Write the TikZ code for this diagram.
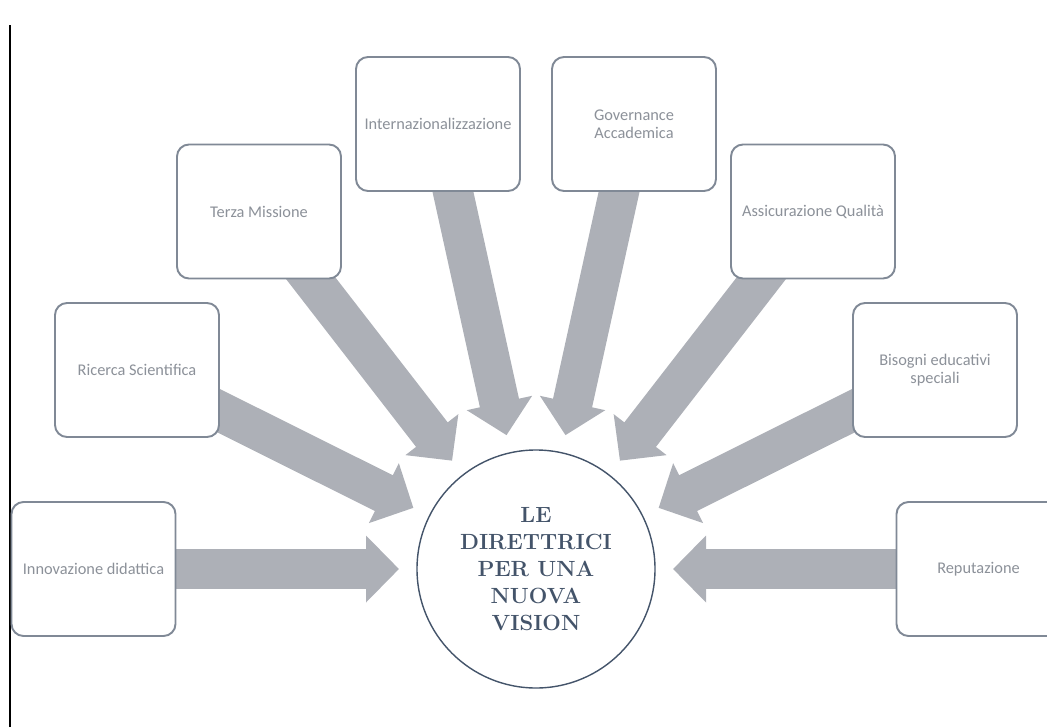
\documentclass[tikz,border=0pt]{standalone}
\usepackage{fontspec}
\newfontfamily\boxfont{Carlito}
\usetikzlibrary{arrows.meta, shapes, backgrounds}
\definecolor{slate}{RGB}{68,84,106}
\definecolor{boxline}{RGB}{128,137,150}
\definecolor{boxtext}{RGB}{140,145,153}
\definecolor{arrowgray}{RGB}{173,176,183}

\begin{document}
\begin{tikzpicture}[
  topic/.style={draw=boxline, line width=1.1pt, rounded corners=0.24cm, fill=white,
    minimum width=3.28cm, minimum height=2.68cm, inner sep=0pt, align=center,
    text=boxtext, font=\boxfont\fontsize{9.3}{10}\selectfont},
  core/.style={circle, draw=slate, line width=0.8pt, fill=white, minimum size=4.76cm,
    inner sep=0pt, align=center, text=slate, font=\bfseries\fontsize{12.5}{15.4}\selectfont},
  fat/.style={arrowgray, line width=0.8cm, -{Triangle[length=0.66cm, width=1.3cm]},
    shorten >=2.74cm}]
\useasboundingbox (0, 0) rectangle (20.94, 14.54);
\draw [line width=1.4pt] (0.2, 0) -- (0.2, 14.04);
\draw (10.72, 3.16) node [core] (vision) {LE\\DIRETTRICI\\PER UNA\\NUOVA\\VISION};
\draw (1.87, 3.16) node [topic] (innov) {Innovazione didattica};
\draw (2.74, 7.14) node [topic] (ricerca) {Ricerca Scientifica};
\draw (5.18, 10.31) node [topic] (terza) {Terza Missione};
\draw (8.76, 12.06) node [topic] (intern) {Internazionalizzazione};
\draw (12.68, 12.06) node [topic] (govern) {Governance\\Accademica};
\draw (16.26, 10.31) node [topic] (assic) {Assicurazione Qualità};
\draw (18.70, 7.14) node [topic] (bisogni) {Bisogni educativi\\speciali};
\draw (19.57, 3.16) node [topic] (reput) {Reputazione};
\begin{scope}[on background layer]
\foreach \t in {innov, ricerca, terza, intern, govern, assic, bisogni, reput}
  \draw [fat] (\t.center) -- (vision.center);
\end{scope}
\end{tikzpicture}
\end{document}
